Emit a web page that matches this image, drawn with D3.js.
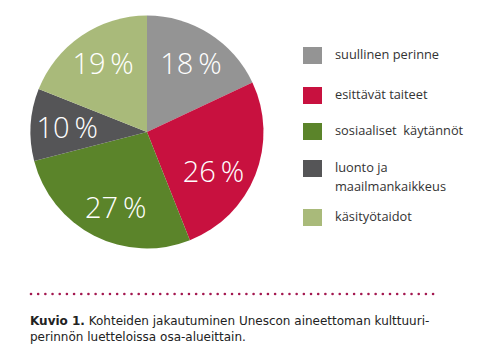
<!DOCTYPE html>
<html><head><meta charset="utf-8">
<script src="https://cdn.jsdelivr.net/npm/d3@7"></script>
<style>body{margin:0;background:#fff;} svg{display:block;}</style>
</head><body>
<svg id="c" width="480" height="360"></svg>
<script>
const categories = ["suullinen perinne","esittävät taiteet","sosiaaliset  käytännöt","luonto ja|maailmankaikkeus","käsityötaidot"];
const values = [18, 26, 27, 10, 19];
const labels = ["18\u2009%","26\u2009%","27\u2009%","10\u2009%","19\u2009%"];
const colors = ["#949494","#c8113f","#5b842a","#555557","#a9ba7a"];
const captionBold = "Kuvio 1.";
const captionLines = [" Kohteiden jakautuminen Unescon aineettoman kulttuuri-","perinnön luetteloissa osa-alueittain."];

const svg = d3.select("#c");
const cx = 147, cy = 132, R = 116.5;
const pie = d3.pie().sort(null).value(d=>d)(values);
const arc = d3.arc().innerRadius(0).outerRadius(R);
const labelArc = d3.arc().innerRadius(80).outerRadius(80);
// small manual label nudges (layout only), relative to the arc centroid
const nudge = [[1,-1],[-8,10],[5,4],[0,1],[1,-2]];
const g = svg.append("g").attr("transform",`translate(${cx},${cy})`);
g.selectAll("path").data(pie).enter().append("path")
  .attr("d",arc).attr("fill",(d,i)=>colors[i]);
g.selectAll("text").data(pie).enter().append("text")
  .attr("transform",(d,i)=>{const c=labelArc.centroid(d);return `translate(${c[0]+nudge[i][0]},${c[1]+nudge[i][1]})`;})
  .attr("text-anchor","middle").attr("dy","0.36em")
  .attr("font-family","'Open Sans', sans-serif").attr("font-weight",300)
  .attr("font-size",29).attr("fill","#fff")
  .text((d,i)=>labels[i]);

// legend
const ly = [47,87,123,160,209];
const lg = svg.append("g");
categories.forEach((c,i)=>{
  lg.append("rect").attr("x",303).attr("y",ly[i]).attr("width",19).attr("height",17).attr("fill",colors[i]);
  const t = lg.append("text").attr("x",335).attr("y",ly[i]+12)
    .attr("font-family","'Open Sans', sans-serif").attr("font-size",12.8).attr("fill","#333")
    .style("white-space","pre");
  c.split("|").forEach((s,j)=>{
    t.append("tspan").attr("x",335).attr("dy",j?19:0).text(s);
  });
});

// dotted line
const dotX = d3.range(31, 434, 7.18);
svg.append("g").selectAll("circle").data(dotX).enter().append("circle")
  .attr("cx",d=>d).attr("cy",294).attr("r",1.3).attr("fill","#a3174f");

// caption
const cap = svg.append("text").attr("x",30).attr("y",325)
  .attr("font-family","'DejaVu Sans', sans-serif").attr("font-size",12).attr("fill","#222");
cap.append("tspan").attr("font-weight","bold").text(captionBold);
cap.append("tspan").style("white-space","pre").text(captionLines[0]);
svg.append("text").attr("x",30).attr("y",341)
  .attr("font-family","'DejaVu Sans', sans-serif").attr("font-size",12).attr("fill","#222")
  .text(captionLines[1]);
</script>
</body></html>
